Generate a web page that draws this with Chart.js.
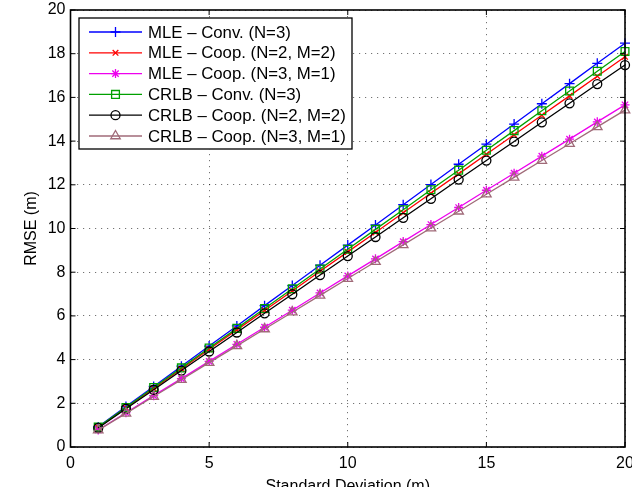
<!DOCTYPE html>
<html>
<head>
<meta charset="utf-8">
<script src="https://cdn.jsdelivr.net/npm/chart.js@4/dist/chart.umd.min.js"></script>
<style>
  html, body { margin: 0; padding: 0; background: #fff; }
  #rmse { display: block; }
</style>
</head>
<body>
<canvas id="rmse" width="632" height="487"></canvas>
<script>
// standard deviation of the range error (m)
const sigma = [1, 2, 3, 4, 5, 6, 7, 8, 9, 10, 11, 12, 13, 14, 15, 16, 17, 18, 19, 20];

// RMSE values (m)
const mleConv = [0.92, 1.85, 2.77, 3.70, 4.62, 5.54, 6.47, 7.39, 8.32, 9.24, 10.16, 11.09, 12.01, 12.94, 13.86, 14.78, 15.71, 16.63, 17.56, 18.48];
const mleCoop22 = [0.89, 1.79, 2.68, 3.57, 4.47, 5.36, 6.25, 7.14, 8.04, 8.93, 9.82, 10.72, 11.61, 12.50, 13.40, 14.29, 15.18, 16.07, 16.97, 17.86];
const mleCoop31 = [0.78, 1.57, 2.35, 3.13, 3.92, 4.70, 5.48, 6.26, 7.05, 7.83, 8.61, 9.40, 10.18, 10.96, 11.75, 12.53, 13.31, 14.09, 14.88, 15.66];
const crlbConv = [0.91, 1.81, 2.72, 3.62, 4.53, 5.43, 6.34, 7.24, 8.15, 9.05, 9.96, 10.86, 11.77, 12.67, 13.58, 14.48, 15.39, 16.29, 17.20, 18.10];
const crlbCoop22 = [0.87, 1.75, 2.62, 3.50, 4.37, 5.24, 6.12, 6.99, 7.87, 8.74, 9.61, 10.49, 11.36, 12.24, 13.11, 13.98, 14.86, 15.73, 16.61, 17.48];
const crlbCoop31 = [0.77, 1.54, 2.31, 3.08, 3.86, 4.63, 5.40, 6.17, 6.94, 7.71, 8.48, 9.25, 10.02, 10.79, 11.57, 12.34, 13.11, 13.88, 14.65, 15.42];

const seriesLabels = [
  "MLE \u2013 Conv. (N=3)",
  "MLE \u2013 Coop. (N=2, M=2)",
  "MLE \u2013 Coop. (N=3, M=1)",
  "CRLB \u2013 Conv. (N=3)",
  "CRLB \u2013 Coop. (N=2, M=2)",
  "CRLB \u2013 Coop. (N=3, M=1)",
];
const seriesValues = [mleConv, mleCoop22, mleCoop31, crlbConv, crlbCoop22, crlbCoop31];

const xTickLabels = ["0", "5", "10", "15", "20"];
const yTickLabels = ["0", "2", "4", "6", "8", "10", "12", "14", "16", "18", "20"];

const styles = [
  { color: "#0000ff", point: "cross", radius: 5 },
  { color: "#ff0000", point: "crossRot", radius: 4 },
  { color: "#ee00ee", point: "star", radius: 4.5 },
  { color: "#00a000", point: "rect", radius: 5.5 },
  { color: "#000000", point: "circle", radius: 4.5 },
  { color: "#a06a78", point: "triangle", radius: 5.5 },
];

const FONT = "'Liberation Sans', Arial, Helvetica, sans-serif";

const datasets = seriesValues.map((vals, i) => ({
  label: seriesLabels[i],
  data: vals.map((v, j) => ({ x: sigma[j], y: v })),
  borderColor: styles[i].color,
  backgroundColor: "rgba(0,0,0,0)",
  borderWidth: 1.3,
  pointStyle: styles[i].point,
  pointRadius: styles[i].radius,
  pointBorderColor: styles[i].color,
  pointBackgroundColor: "rgba(0,0,0,0)",
  pointBorderWidth: 1.3,
  tension: 0,
  clip: false,
  order: seriesValues.length - i, // later series drawn on top, like MATLAB
}));

// MATLAB style box with inward tick marks
const framePlugin = {
  id: "frame",
  afterDatasetsDraw(chart) {
    const { ctx, chartArea: a, scales } = chart;
    ctx.save();
    ctx.strokeStyle = "#000";
    ctx.lineWidth = 1;
    ctx.beginPath();
    scales.x.ticks.forEach((t) => {
      const px = scales.x.getPixelForValue(t.value);
      ctx.moveTo(px, a.bottom); ctx.lineTo(px, a.bottom - 5);
      ctx.moveTo(px, a.top); ctx.lineTo(px, a.top + 5);
    });
    scales.y.ticks.forEach((t) => {
      const py = scales.y.getPixelForValue(t.value);
      ctx.moveTo(a.left, py); ctx.lineTo(a.left + 5, py);
      ctx.moveTo(a.right, py); ctx.lineTo(a.right - 5, py);
    });
    ctx.stroke();
    ctx.lineWidth = 1.6;
    ctx.strokeRect(a.left, a.top, a.right - a.left, a.bottom - a.top);
    ctx.restore();
  },
};

// legend box in the upper left corner of the axes
const legendPlugin = {
  id: "boxLegend",
  afterDraw(chart) {
    const { ctx, chartArea: a } = chart;
    const left = a.left + 8.5, top = a.top + 8, w = 273, h = 131;
    ctx.save();
    ctx.fillStyle = "#fff";
    ctx.fillRect(left, top, w, h);
    ctx.strokeStyle = "#000";
    ctx.lineWidth = 1.3;
    ctx.strokeRect(left, top, w, h);
    ctx.textBaseline = "middle";
    ctx.textAlign = "left";
    chart.data.datasets.forEach((ds, i) => {
      const y = top + 14 + i * 20.8;
      ctx.strokeStyle = ds.borderColor;
      ctx.lineWidth = 1.3;
      ctx.beginPath();
      ctx.moveTo(left + 10, y);
      ctx.lineTo(left + 63, y);
      ctx.stroke();
      ctx.fillStyle = "rgba(0,0,0,0)";
      Chart.helpers.drawPoint(ctx, {
        pointStyle: ds.pointStyle,
        radius: ds.pointRadius,
        borderWidth: ds.pointBorderWidth,
        rotation: 0,
      }, left + 36.5, y);
      ctx.fillStyle = "#000";
      ctx.font = "16.8px " + FONT;
      ctx.fillText(ds.label, left + 69, y + 1);
    });
    ctx.restore();
  },
};

new Chart(document.getElementById("rmse").getContext("2d"), {
  type: "line",
  data: { datasets: datasets },
  options: {
    responsive: false,
    animation: false,
    events: [],
    layout: { padding: { top: 10, right: 7, left: 0, bottom: 0 } },
    plugins: { legend: { display: false }, tooltip: { enabled: false } },
    scales: {
      x: {
        type: "linear",
        min: 0,
        max: 20,
        ticks: {
          stepSize: 5,
          padding: 7,
          color: "#000",
          font: { family: FONT, size: 16 },
          maxRotation: 0,
          callback: (v) => xTickLabels[xTickLabels.indexOf(String(v))] ?? "",
        },
        grid: { color: "rgba(0,0,0,0.55)", lineWidth: 1, drawTicks: false },
        border: { display: false, dash: [1.2, 4.8] },
        title: {
          display: true,
          text: "Standard Deviation (m)",
          color: "#000",
          font: { family: FONT, size: 16, lineHeight: 0.1 },
          padding: { top: 1, bottom: 0 },
        },
        afterFit(scale) {
          scale.height = 40;
          scale.paddingLeft = 0;
          scale.paddingRight = 0;
        },
      },
      y: {
        type: "linear",
        min: 0,
        max: 20,
        ticks: {
          stepSize: 2,
          padding: 5,
          color: "#000",
          font: { family: FONT, size: 16 },
          callback: (v) => yTickLabels[yTickLabels.indexOf(String(v))] ?? "",
        },
        grid: { color: "rgba(0,0,0,0.55)", lineWidth: 1, drawTicks: false },
        border: { display: false, dash: [1.2, 4.8] },
        title: {
          display: true,
          text: "RMSE (m)",
          color: "#000",
          font: { family: FONT, size: 16 },
          padding: { top: 22, bottom: 0 },
        },
        afterFit(scale) {
          scale.width = 70.5;
          scale.paddingTop = 0;
          scale.paddingBottom = 0;
        },
      },
    },
  },
  plugins: [framePlugin, legendPlugin],
});
</script>
</body>
</html>
